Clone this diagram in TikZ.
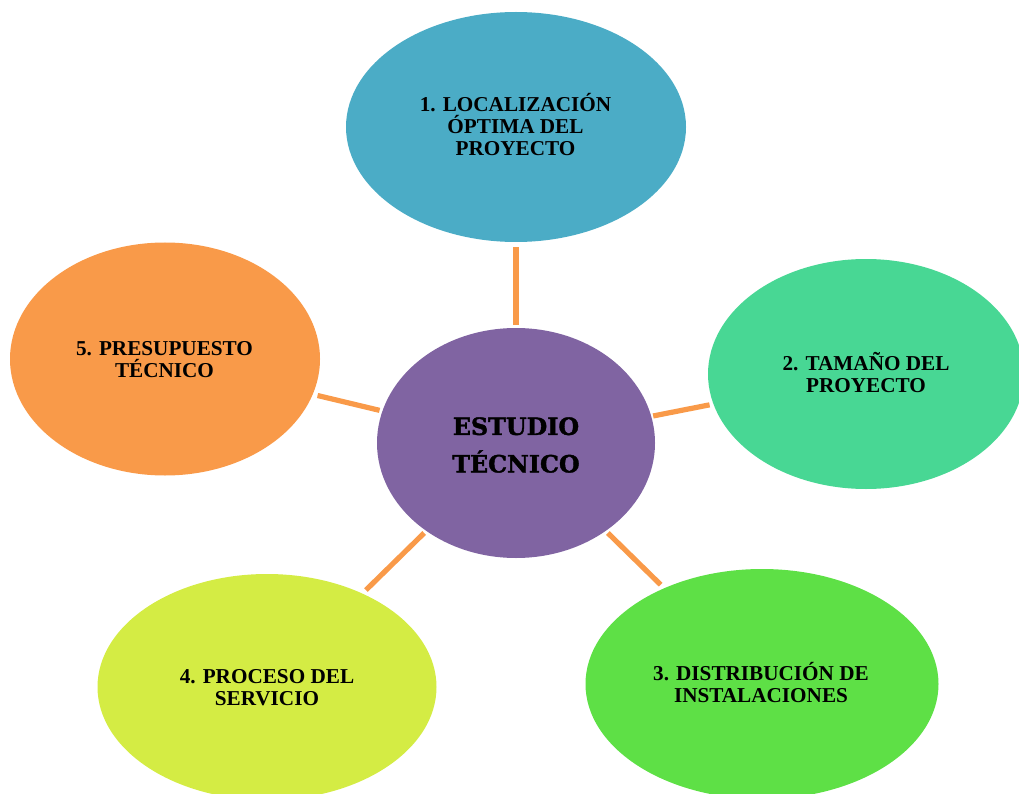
\documentclass[tikz,border=0pt]{standalone}
\usepackage{fontspec}
\setmainfont{Liberation Serif}
\newfontfamily\titlefont[BoldFeatures={FakeBold=1.6}]{DejaVu Serif}
\usetikzlibrary{shapes.geometric}
\definecolor{cteal}{HTML}{4BACC6}
\definecolor{cmint}{HTML}{48D794}
\definecolor{cgreen}{HTML}{5EE046}
\definecolor{clime}{HTML}{D4EC44}
\definecolor{corange}{HTML}{F99A49}
\definecolor{cpurple}{HTML}{8064A2}
\tikzset{
  bubble/.style={ellipse,draw=none,inner sep=0pt,outer sep=0pt,align=center,text=black,
    font=\fontsize{21.2}{22}\selectfont\bfseries},
  link/.style={draw=corange,line width=5.2pt,shorten >=5pt,shorten <=3pt}
}
\begin{document}
\begin{tikzpicture}[x=1pt,y=-1pt]
\useasboundingbox (0,0) rectangle (1019,794);
\clip (0,0) rectangle (1019,794);
\node[bubble,fill=cpurple,minimum width=278pt,minimum height=230pt] (c) at (516,443) {};
\node[bubble,fill=cteal,minimum width=340pt,minimum height=230pt] (n1) at (516,127) {};
\node[bubble,fill=cmint,minimum width=316pt,minimum height=230pt] (n2) at (866,374) {};
\node[bubble,fill=cgreen,minimum width=353pt,minimum height=230pt] (n3) at (762,684) {};
\node[bubble,fill=clime,minimum width=339pt,minimum height=226pt] (n4) at (267,687) {};
\node[bubble,fill=corange,minimum width=310pt,minimum height=233pt] (n5) at (165,359) {};
\node[align=center,inner sep=0pt,font=\titlefont\fontsize{23.8}{37.5}\selectfont\bfseries] (tc) at (516,445) {ESTUDIO\\TÉCNICO};
\node[bubble,minimum size=0pt] (t1) at (515.5,125) {1. LOCALIZACIÓN\\ÓPTIMA DEL\\PROYECTO};
\node[bubble,minimum size=0pt] (t2) at (866,372) {2. TAMAÑO DEL\\PROYECTO};
\node[bubble,minimum size=0pt] (t3) at (761,683) {3. DISTRIBUCIÓN DE\\INSTALACIONES};
\node[bubble,minimum size=0pt] (t4) at (267,687.5) {4. PROCESO DEL\\SERVICIO};
\node[bubble,minimum size=0pt] (t5) at (164.5,360) {5. PRESUPUESTO\\TÉCNICO};
\draw[link] (c) -- (n1);
\draw[link,shorten >=4pt,shorten <=2pt] (c) -- (n2);
\draw[link] (c) -- (n3);
\draw[link] (c) -- (n4);
\draw[link,shorten >=5pt] (c) -- (n5);
\end{tikzpicture}
\end{document}
